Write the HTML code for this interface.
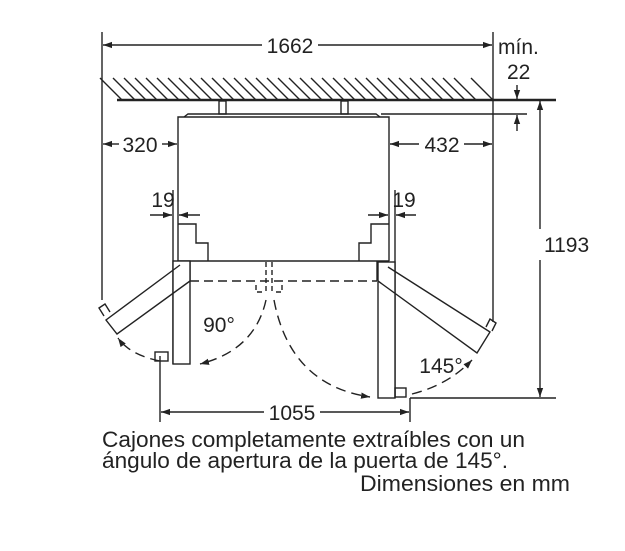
<!DOCTYPE html>
<html><head><meta charset="utf-8"><style>
html,body{margin:0;padding:0;background:#fff;}
svg{display:block;}
text{font-family:"Liberation Sans",Arial,sans-serif;fill:#222;}
</style></head><body>
<svg width="625" height="551" viewBox="0 0 625 551" xmlns="http://www.w3.org/2000/svg">
<defs>
<marker id="a" viewBox="0 0 10 10" refX="10" refY="5" markerWidth="9" markerHeight="9" markerUnits="userSpaceOnUse" orient="auto-start-reverse"><path d="M0,1.5 L10,5 L0,8.5z" fill="#222"/></marker>
</defs>
<g stroke="#222" stroke-width="1.4" fill="none">
<line x1="102" y1="32" x2="102" y2="300"/>
<line x1="493" y1="32" x2="493" y2="322"/>
<line x1="103" y1="45" x2="262" y2="45" marker-start="url(#a)"/>
<line x1="318" y1="45" x2="492" y2="45" marker-end="url(#a)"/>
<path d="M100,78 l22,22 M113,78 l22,22 M124,78 l22,22 M135,78 l22,22 M146,78 l22,22 M157,78 l22,22 M168,78 l22,22 M179,78 l22,22 M190,78 l22,22 M201,78 l22,22 M212,78 l22,22 M223,78 l22,22 M234,78 l22,22 M245,78 l22,22 M256,78 l22,22 M267,78 l22,22 M278,78 l22,22 M289,78 l22,22 M300,78 l22,22 M311,78 l22,22 M322,78 l22,22 M333,78 l22,22 M344,78 l22,22 M355,78 l22,22 M366,78 l22,22 M377,78 l22,22 M388,78 l22,22 M399,78 l22,22 M410,78 l22,22 M421,78 l22,22 M432,78 l22,22 M443,78 l22,22 M454,78 l22,22 M471,78 l22,22"/>
<line x1="117" y1="100" x2="556" y2="100" stroke-width="2.4"/>
<rect x="219" y="101" width="7" height="13"/>
<rect x="341" y="101" width="7" height="13"/>
<path d="M184,117 L188,114 L376,114 L380,117"/>
<line x1="381" y1="114" x2="527" y2="114"/>
<path d="M178,261 L178,117 L389,117 L389,261"/>
<line x1="178" y1="261" x2="389" y2="261"/>
<line x1="517" y1="85" x2="517" y2="99" marker-end="url(#a)"/>
<line x1="517" y1="131" x2="517" y2="115" marker-end="url(#a)"/>
<line x1="103" y1="144" x2="119" y2="144" marker-start="url(#a)"/>
<line x1="162" y1="144" x2="177" y2="144" marker-end="url(#a)"/>
<line x1="390" y1="144" x2="419" y2="144" marker-start="url(#a)"/>
<line x1="464" y1="144" x2="492" y2="144" marker-end="url(#a)"/>
<line x1="540" y1="101" x2="540" y2="229" marker-start="url(#a)"/>
<line x1="540" y1="260" x2="540" y2="397" marker-end="url(#a)"/>
<line x1="410" y1="398" x2="556" y2="398"/>
<line x1="173" y1="190" x2="173" y2="364"/>
<line x1="150" y1="215" x2="172" y2="215" marker-end="url(#a)"/>
<line x1="200" y1="215" x2="179" y2="215" marker-end="url(#a)"/>
<line x1="395" y1="190" x2="395" y2="398"/>
<line x1="368" y1="215" x2="388" y2="215" marker-end="url(#a)"/>
<line x1="416" y1="215" x2="396" y2="215" marker-end="url(#a)"/>
<path d="M178,224 L196,224 L196,243 L208,243 L208,261"/>
<path d="M389,224 L371,224 L371,243 L359,243 L359,261"/>
<rect x="178" y="262" width="12" height="18"/>
<rect x="377" y="262" width="12" height="18"/>
<path d="M178,266 l8,6 M186,272 l-6,6 M389,266 l-8,6 M381,272 l6,6"/>
<line x1="190" y1="281" x2="377" y2="281" stroke-dasharray="9,5"/>
<path d="M266,262 v30 M272,262 v30 M256,285 v7 h8 M282,285 v7 h-8" stroke-dasharray="5,3"/>
<rect x="173" y="261" width="17" height="103" fill="#fff"/>
<rect x="155" y="352" width="13" height="9"/>
<rect x="378" y="262" width="17" height="136" fill="#fff"/>
<rect x="395" y="388" width="11" height="9"/>
<path d="M180,265 L106,320 L117,334 L190,281"/>
<path d="M104,316 l-5,-8 l6,-4 l5,8" />
<path d="M388,267 L490,332 L477,353 L378,281"/>
<path d="M486,327 l4,-8 l6,4 l-4,8"/>
<path d="M266,300 Q255,350 200,364" stroke-dasharray="10,6" marker-end="url(#a)"/>
<path d="M160,361 Q130,355 118,338" stroke-dasharray="10,6" marker-end="url(#a)"/>
<path d="M274,300 Q290,385 370,397" stroke-dasharray="10,6" marker-end="url(#a)"/>
<path d="M412,394 Q448,385 472,360" stroke-dasharray="10,6" marker-end="url(#a)"/>
<line x1="160" y1="356" x2="160" y2="422"/>
<line x1="410" y1="398" x2="410" y2="422"/>
<line x1="161" y1="412" x2="264" y2="412" marker-start="url(#a)"/>
<line x1="320" y1="412" x2="409" y2="412" marker-end="url(#a)"/>
</g>
<g font-size="21">
<text x="290" y="53" text-anchor="middle">1662</text>
<text x="498" y="54">mín.</text>
<text x="507" y="79">22</text>
<text x="140" y="152" text-anchor="middle">320</text>
<text x="442" y="152" text-anchor="middle">432</text>
<text x="163" y="207" text-anchor="middle">19</text>
<text x="404" y="207" text-anchor="middle">19</text>
<text x="544" y="252">1193</text>
<text x="219" y="332" text-anchor="middle">90°</text>
<text x="441" y="373" text-anchor="middle">145°</text>
<text x="292" y="420" text-anchor="middle">1055</text>
</g>
<g font-size="22">
<text x="102" y="447" textLength="423" lengthAdjust="spacingAndGlyphs">Cajones completamente extraíbles con un</text>
<text x="102" y="468" textLength="406" lengthAdjust="spacingAndGlyphs">ángulo de apertura de la puerta de 145°.</text>
<text x="360" y="491" textLength="210" lengthAdjust="spacingAndGlyphs">Dimensiones en mm</text>
</g>
</svg>
</body></html>
